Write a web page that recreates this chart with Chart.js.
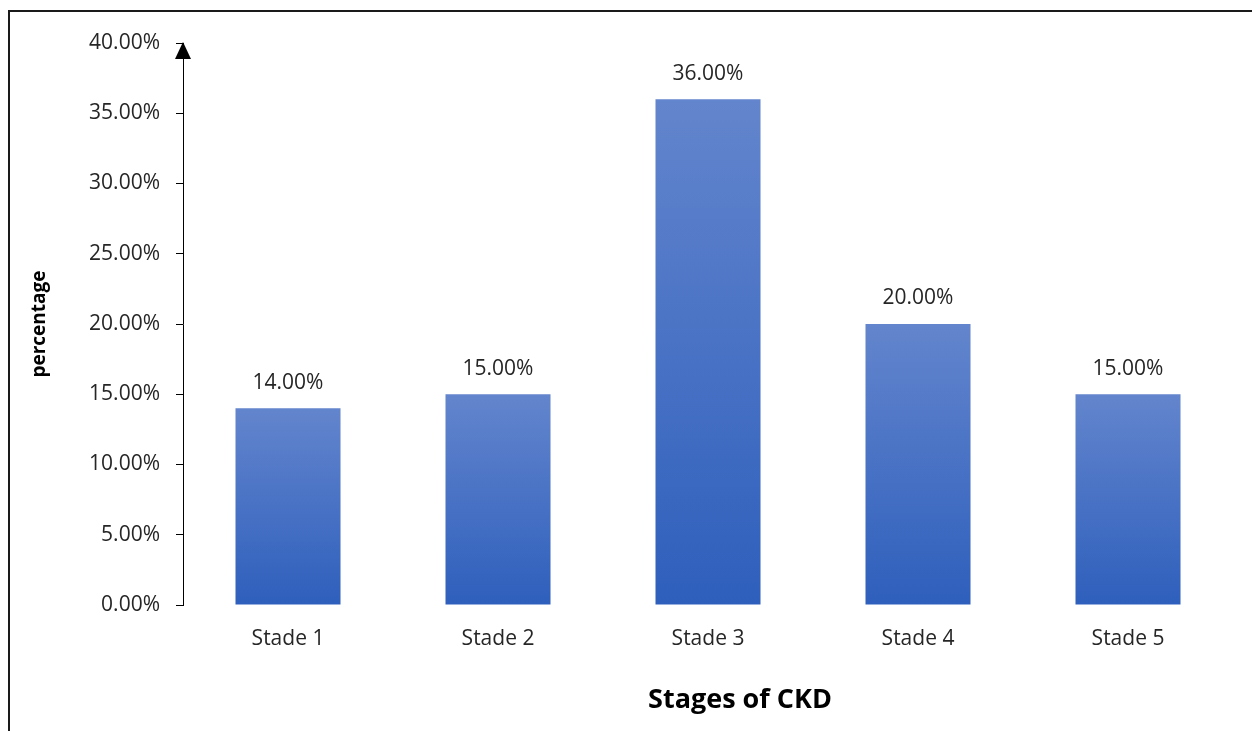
<!DOCTYPE html>
<html>
<head>
<meta charset="utf-8">
<title>Stages of CKD</title>
<script src="https://cdn.jsdelivr.net/npm/chart.js@4/dist/chart.umd.min.js"></script>
<style>
    html, body { margin: 0; padding: 0; background: #fff; }
    #wrap { position: relative; width: 1252px; height: 731px; overflow: hidden; }
    #frame {
        position: absolute; left: 8px; top: 10px; right: 0; bottom: 0;
        border-left: 2px solid #1a1a1a; border-top: 2px solid #1a1a1a;
    }
    #ckdChart { position: absolute; left: 0; top: 0; }
</style>
</head>
<body>
<div id="wrap">
    <div id="frame"></div>
    <canvas id="ckdChart" width="1252" height="731"></canvas>
</div>
<script>
// Chart data
const stages = ['Stade 1', 'Stade 2', 'Stade 3', 'Stade 4', 'Stade 5'];
const percentages = [14, 15, 36, 20, 15];
const yTicks = [0, 5, 10, 15, 20, 25, 30, 35, 40];

const textColor = '#262626';
const fontFamily = '"Open Sans", "Liberation Sans", sans-serif';

document.addEventListener('DOMContentLoaded', function() {

    function fmt(v) {
        return v.toFixed(2) + '%';
    }

    // gradient per bar, light on top, darker at the base
    function barGradient(context) {
        const chart = context.chart;
        const yScale = chart.scales.y;
        if (!chart.chartArea || !yScale || context.dataIndex === undefined) return '#4470c4';
        const top = yScale.getPixelForValue(percentages[context.dataIndex]);
        const base = yScale.getPixelForValue(0);
        const g = chart.ctx.createLinearGradient(0, top, 0, base);
        g.addColorStop(0, '#6385cd');
        g.addColorStop(1, '#2e5fbc');
        return g;
    }

    // value labels above the bars
    const valueLabels = {
        id: 'valueLabels',
        afterDatasetsDraw(chart) {
            const ctx = chart.ctx;
            const meta = chart.getDatasetMeta(0);
            ctx.save();
            ctx.font = '21px ' + fontFamily;
            ctx.fillStyle = textColor;
            ctx.textAlign = 'center';
            ctx.textBaseline = 'bottom';
            meta.data.forEach(function(bar, i) {
                ctx.fillText(fmt(percentages[i]), bar.x, bar.y - 15);
            });
            ctx.restore();
        }
    };

    // arrow head on the y axis + x axis title
    const axisExtras = {
        id: 'axisExtras',
        afterDraw(chart) {
            const ctx = chart.ctx;
            const area = chart.chartArea;
            const x = chart.scales.y.right;
            ctx.save();
            ctx.fillStyle = '#000';
            ctx.beginPath();
            ctx.moveTo(x, area.top - 1);
            ctx.lineTo(x - 8, area.top + 16);
            ctx.lineTo(x + 8, area.top + 16);
            ctx.closePath();
            ctx.fill();

            ctx.font = 'bold 27px ' + fontFamily;
            ctx.fillStyle = '#000';
            ctx.textAlign = 'center';
            ctx.textBaseline = 'middle';
            ctx.fillText('Stages of CKD', (area.left + area.right) / 2 + 32, 700);
            ctx.restore();
        }
    };

    const ctx = document.getElementById('ckdChart');
    new Chart(ctx.getContext('2d'), {
        type: 'bar',
        data: {
            labels: stages,
            datasets: [{
                label: 'percentage',
                data: percentages,
                backgroundColor: barGradient,
                borderWidth: 0,
                barPercentage: 0.5,
                categoryPercentage: 1.0
            }]
        },
        options: {
            responsive: false,
            animation: false,
            layout: {
                padding: { left: 0, top: 43, right: 19, bottom: 0 }
            },
            plugins: {
                legend: { display: false },
                tooltip: { enabled: false }
            },
            scales: {
                x: {
                    grid: { display: false, drawTicks: false },
                    border: { display: false },
                    ticks: {
                        color: textColor,
                        padding: 21,
                        font: { size: 21, family: fontFamily }
                    },
                    afterFit: function(scale) { scale.height = 126; }
                },
                y: {
                    min: 0,
                    max: 40,
                    afterBuildTicks: function(scale) {
                        scale.ticks = yTicks.map(v => ({ value: v }));
                    },
                    grid: {
                        drawOnChartArea: false,
                        drawTicks: true,
                        tickLength: 7,
                        color: '#000'
                    },
                    border: { display: true, color: '#000', width: 1 },
                    ticks: {
                        color: textColor,
                        padding: 16,
                        font: { size: 21, family: fontFamily },
                        callback: function(value) { return fmt(value); }
                    },
                    title: {
                        display: true,
                        text: 'percentage',
                        color: '#000',
                        padding: { top: 28, bottom: 0 },
                        font: { size: 19, weight: 'bold', family: fontFamily }
                    },
                    afterFit: function(scale) { scale.width = 183; }
                }
            }
        },
        plugins: [valueLabels, axisExtras]
    });
});
</script>
</body>
</html>
